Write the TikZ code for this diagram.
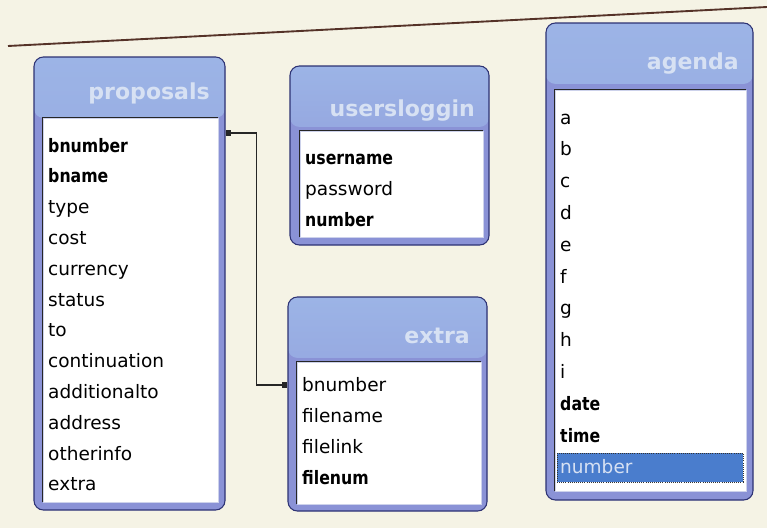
\documentclass[tikz,border=0pt]{standalone}
\usepackage{fontspec}
\setmainfont{DejaVu Sans}
\newfontfamily\keyfont[FakeStretch=0.85]{DejaVu Sans Bold}
\usetikzlibrary{positioning,calc,fit}

\definecolor{bgcream}{RGB}{245,243,229}
\definecolor{tframe}{RGB}{138,146,214}
\definecolor{hdtop}{RGB}{156,180,230}
\definecolor{tborder}{RGB}{45,50,115}
\definecolor{titletext}{RGB}{215,225,243}
\definecolor{listedge}{RGB}{205,210,235}
\definecolor{selblue}{RGB}{74,125,205}
\definecolor{pageline}{RGB}{85,50,40}

\begin{document}
\begin{tikzpicture}[x=0.03cm, y=-0.03cm,
  tableframe/.style={draw=tborder, line width=0.9pt, fill=tframe, rounded corners=8pt, inner sep=0pt,
    path picture={\shade[top color=hdtop, bottom color=tframe] (path picture bounding box.north west) rectangle ([yshift=-52pt]path picture bounding box.north east);}},
  tabletitle/.style={anchor=base east, inner sep=0pt, text=titletext, font=\fontsize{18.8}{20}\selectfont\bfseries},
  fieldlist/.style={fill=white, draw=listedge, line width=0.6pt, inner sep=0pt},
  sunken/.style={black!85, line width=1.3pt},
  field/.style={anchor=base west, inner sep=0pt, font=\fontsize{15.8}{18}\selectfont},
  keyfield/.style={field, font=\fontsize{15.8}{18}\selectfont\keyfont},
  selbox/.style={fill=selblue, draw=black!80, densely dotted, line width=0.8pt, inner sep=0pt},
  relline/.style={black!85, line width=1.1pt}]

\useasboundingbox (0,0) rectangle (767,528);
\fill[bgcream] (0,0) rectangle (767,528);

% Page rule
\draw[pageline, line width=1.6pt] (8,46) -- (767,7);

% proposals
\node[tableframe, fit={(34,57) (225,510)}] (proposals) {};
\node[fieldlist, fit={(43,118) (218,502)}] (plist) {};
\draw[sunken] (plist.south west) |- (plist.north east);
\node[tabletitle] (ptitle) at (210,99) {proposals};
\foreach \i/\f/\s in {1/bnumber/keyfield, 2/bname/keyfield, 3/type/field, 4/cost/field,
    5/currency/field, 6/status/field, 7/to/field, 8/continuation/field,
    9/additionalto/field, 10/address/field, 11/otherinfo/field, 12/extra/field}
  \node[\s] (p\i) at (48, {152+30.8*(\i-1)}) {\f};

% usersloggin
\node[tableframe, fit={(290,66) (489,245)}] (usersloggin) {};
\node[fieldlist, fit={(300,131) (483,237)}] (ulist) {};
\draw[sunken] (ulist.south west) |- (ulist.north east);
\node[tabletitle] (utitle) at (475,116) {usersloggin};
\foreach \i/\f/\s in {1/username/keyfield, 2/password/field, 3/number/keyfield}
  \node[\s] (u\i) at (305, {164+31*(\i-1)}) {\f};

% extra
\node[tableframe, fit={(288,297) (487,511)}] (extra) {};
\node[fieldlist, fit={(297,362) (481,504)}] (xlist) {};
\draw[sunken] (xlist.south west) |- (xlist.north east);
\node[tabletitle] (xtitle) at (470,343) {extra};
\foreach \i/\f/\s in {1/bnumber/field, 2/filename/field, 3/filelink/field, 4/filenum/keyfield}
  \node[\s] (x\i) at (302, {391+31*(\i-1)}) {\f};

% agenda
\node[tableframe, fit={(546,23) (753,500)}] (agenda) {};
\node[fieldlist, fit={(555,90) (746,491)}] (alist) {};
\draw[sunken] (alist.south west) |- (alist.north east);
\node[tabletitle] (atitle) at (739,69) {agenda};
\node[selbox, fit={(557,453) (743,482)}] (asel) {};
\foreach \i/\f/\s in {1/a/field, 2/b/field, 3/c/field, 4/d/field, 5/e/field, 6/f/field,
    7/g/field, 8/h/field, 9/i/field, 10/date/keyfield, 11/time/keyfield}
  \node[\s] (a\i) at (560, {124+31.8*(\i-1)}) {\f};
\node[field, text=titletext] (a12) at (560, {124+31.8*11}) {number};

% relationship proposals.bnumber -- extra.bnumber
\coordinate (c1) at ($(proposals.east |- p1.base)+(0,-19)$);
\coordinate (c2) at ($(extra.west |- x1.base)+(0,-6)$);
\draw[relline] (c1) -| ($(c1)!0.5!(c2)$) |- (c2);
\fill[black!85] ([shift={(0,-3)}]c1) rectangle ++(5,6);
\fill[black!85] ([shift={(-5,-3)}]c2) rectangle ++(5,6);

\end{tikzpicture}
\end{document}
